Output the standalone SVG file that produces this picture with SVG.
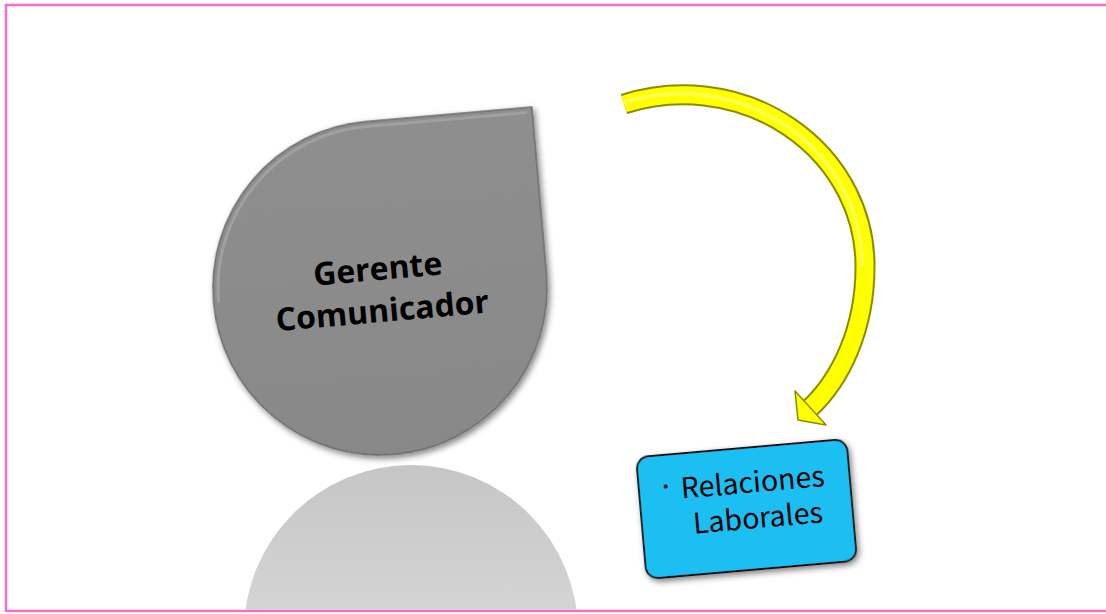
<svg xmlns="http://www.w3.org/2000/svg" width="1106" height="614" viewBox="0 0 1106 614">
<style>
.t1{font-family:"Open Sans","Liberation Sans",sans-serif;font-weight:bold;font-size:32px;fill:#000;text-anchor:middle}
.t2{font-family:"Noto Sans CJK JP","DejaVu Sans",sans-serif;font-size:28.5px;fill:#000}
</style>
<defs>
<linearGradient id="refl" x1="0" y1="0" x2="0" y2="1">
<stop offset="0" stop-color="#c6c6c6"/>
<stop offset="1" stop-color="#e6e6e6"/>
</linearGradient>
<linearGradient id="drop" x1="0" y1="0" x2="0" y2="1">
<stop offset="0" stop-color="#8e8e8e"/>
<stop offset="1" stop-color="#888888"/>
</linearGradient>
<filter id="sh" x="-20%" y="-20%" width="140%" height="140%">
<feGaussianBlur in="SourceAlpha" stdDeviation="3"/>
<feOffset dx="2" dy="3"/>
<feComponentTransfer><feFuncA type="linear" slope="0.5"/></feComponentTransfer>
<feMerge><feMergeNode/><feMergeNode in="SourceGraphic"/></feMerge>
</filter>
<clipPath id="frame"><rect x="7" y="5" width="1099" height="605"/></clipPath>
</defs>
<rect width="1106" height="614" fill="#fff"/>
<path d="M6,612 V5 H1106 M6,611 H1106" fill="none" stroke="#f76bd0" stroke-width="2.5"/>
<g id="reflection" clip-path="url(#frame)">
<circle cx="411" cy="632" r="167" fill="url(#refl)"/>
</g>
<g id="gerente">
<path transform="rotate(-5 380 288)" d="M213,288 A167,167 0 0 1 380,121 L547,121 L547,288 A167,167 0 0 1 380,455 A167,167 0 0 1 213,288 Z" fill="url(#drop)" stroke="#6e6e6e" stroke-width="1.5" filter="url(#sh)"/>
<path transform="rotate(-5 380 288)" d="M218,288 A162,162 0 0 1 380,126 L542,126" fill="none" stroke="#a8a8a8" stroke-width="3" stroke-opacity="0.7"/>
<g transform="rotate(-5 380 296)">
<text class="t1" x="380" y="280">Gerente</text>
<text class="t1" x="381" y="322">Comunicador</text>
</g>
</g>
<g id="connectors">
<path d="M624,104 A182,171 0 0 1 865,267 C865,330 840,380 810,408" fill="none" stroke="#8c8c00" stroke-width="21"/>
<path d="M624,104 A182,171 0 0 1 865,267 C865,330 840,380 810,408" fill="none" stroke="#ffff00" stroke-width="17"/>
<path d="M624,104 A182,171 0 0 1 865,267" fill="none" stroke="#ffff80" stroke-width="4" stroke-opacity="0.6" transform="translate(-3,-1)"/>
<polygon points="795,391 826,425 798,420" fill="#ffff00" stroke="#8c8c00" stroke-width="1.5" stroke-linejoin="round"/>
</g>
<g id="relaciones" transform="rotate(-5 746 509)">
<rect x="641" y="448" width="211" height="122" rx="12" fill="#1cbff2" stroke="#111" stroke-width="1.8" filter="url(#sh)"/>
<text class="t2" x="660" y="490">·</text>
<text class="t2" x="683" y="493">Relaciones</text>
<text class="t2" x="692" y="529">Laborales</text>
</g>
</svg>
